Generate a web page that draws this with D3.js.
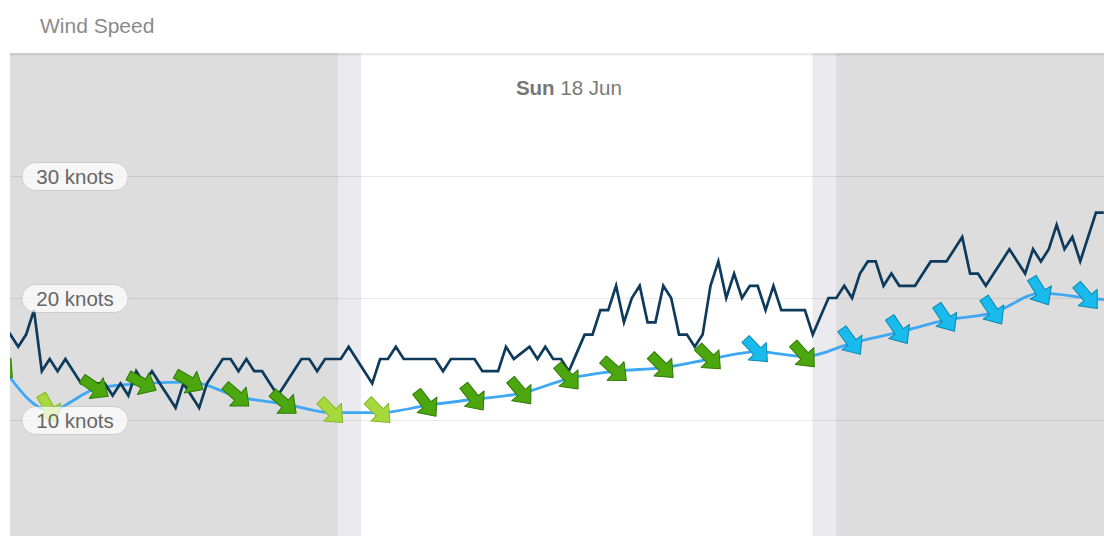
<!DOCTYPE html>
<html><head><meta charset="utf-8">
<script src="https://cdn.jsdelivr.net/npm/d3@7"></script>
<style>
body{margin:0;background:#fff;}
svg{display:block;font-family:"Liberation Sans",Arial,sans-serif;}
</style>
</head><body>
<svg id="c" width="1104" height="536"></svg>
<script>
// ---------- data ----------
const chartTitle = "Wind Speed";
const dayLabelBold = "Sun";
const dayLabelRest = " 18 Jun";
const dayLabelHour = 12;
// hours (from midnight) of dawn, sunrise, sunset, dusk
const dawnHour = 7.12, sunriseHour = 7.6, sunsetHour = 17.16, duskHour = 17.66;
const yTicks = [10, 20, 30];
const tickUnit = "knots";

// hourly mean wind (knots) and direction (deg, from)
const meanHours = [0,1,2,3,4,5,6,7,8,9,10,11,12,13,14,15,16,17,18,19,20,21,22,23,24];
const meanSpeed = [14.3,10.8,12.6,13.0,13.1,11.9,11.3,10.6,10.6,11.2,11.7,12.2,13.4,14.0,14.3,15.0,15.6,15.2,16.3,17.2,18.2,18.8,20.4,20.0,19.6];
const windDir   = [315,330,304,298,300,311,311,315,315,322,322,320,319,312,315,315,316,318,324,326,326,326,328,319,320];

// gusts every 10 minutes (knots), starting at 00:00
const gustStartHour = 0;
const gustStepHour = 1 / 6;
const gustSpeed = [
 18,17,16,17,19,14,15,14,15,14,
 13,13,13,13,12,13,12,14,13,14,
 13,12,11,13,12,11,13,14,15,15,
 14,15,14,14,13,12,13,14,15,15,
 14,15,15,15,16,15,14,13,15,15,
 16,15,15,15,15,15,14,15,15,15,
 15,14,14,14,16,15,15.5,16,15,16,
 15,15,14,15.5,17,17,19,19,21,18,
 20,21,18,18,21,20,17,17,16,17,
 21,23,20,22,20,21,21,19,21,19,
 19,19,19,17,18.5,20,20,21,20,22,
 23,23,21,22,21,21,21,22,23,23,
 23,24,25,22,22,21,22,23,24,23,
 22,24,23,24,26,24,25,23,25,27,
 27
];

// ---------- layout ----------
const plot = {left: 10, right: 1104, top: 53, bottom: 536};
const svg = d3.select("#c");

const x = d3.scaleLinear().domain([0.159, 23.337]).range([plot.left, plot.right]);
const y = d3.scaleLinear().domain([0, 40]).range([542, 54]);

svg.append("defs").append("clipPath").attr("id", "clip")
  .append("rect").attr("x", plot.left).attr("y", plot.top)
  .attr("width", plot.right - plot.left).attr("height", plot.bottom - plot.top);

// title
svg.append("text").attr("x", 40).attr("y", 33)
  .attr("font-size", 21).attr("fill", "#8a8a8a").text(chartTitle);

const g = svg.append("g").attr("clip-path", "url(#clip)");

// background bands (night / twilight / day)
const xMin = x.domain()[0], xMax = x.domain()[1];
const bands = [
  [xMin, dawnHour, "#dddddd"],
  [dawnHour, sunriseHour, "#eaeaef"],
  [sunriseHour, sunsetHour, "#ffffff"],
  [sunsetHour, duskHour, "#eaeaef"],
  [duskHour, xMax, "#dddddd"]
];
g.selectAll("rect.band").data(bands).join("rect").attr("class", "band")
  .attr("x", d => x(d[0])).attr("width", d => x(d[1]) - x(d[0]))
  .attr("y", plot.top).attr("height", plot.bottom - plot.top)
  .attr("fill", d => d[2]);

// top border
g.append("rect").attr("x", plot.left).attr("width", plot.right - plot.left)
  .attr("y", plot.top).attr("height", 2.5).attr("fill", "rgba(0,0,0,0.08)");

// gridlines
g.selectAll("line.grid").data(yTicks).join("line").attr("class", "grid")
  .attr("x1", plot.left).attr("x2", plot.right)
  .attr("y1", d => Math.round(y(d)) + 0.5).attr("y2", d => Math.round(y(d)) + 0.5)
  .attr("stroke", "rgba(0,0,0,0.09)").attr("stroke-width", 1);

// day label
const dl = g.append("text").attr("x", x(dayLabelHour)).attr("y", 95)
  .attr("text-anchor", "middle").attr("font-size", 20.5).attr("fill", "#7a7a7a");
dl.append("tspan").attr("font-weight", "bold").attr("fill", "#777").text(dayLabelBold);
dl.append("tspan").text(dayLabelRest);

// mean line
const meanData = meanHours.map((h, i) => ({h, v: meanSpeed[i], d: windDir[i]}));
g.append("path").datum(meanData)
  .attr("d", d3.line().x(d => x(d.h)).y(d => y(d.v)).curve(d3.curveMonotoneX))
  .attr("fill", "none").attr("stroke", "#3fa8f4").attr("stroke-width", 2.8);

// gust line
const gustData = gustSpeed.map((v, k) => ({h: gustStartHour + k * gustStepHour, v}));
g.append("path").datum(gustData)
  .attr("d", d3.line().x(d => x(d.h)).y(d => y(d.v)))
  .attr("fill", "none").attr("stroke", "#0e3a5c").attr("stroke-width", 2.7)
  .attr("stroke-linejoin", "miter");

// arrows
function arrowColors(v) {
  if (v < 11) return ["#a6d93c", "#86b52a"];
  if (v < 15.5) return ["#4ca60e", "#2f7a06"];
  return ["#19bbec", "#0a87b2"];
}
const arrowPath = "M-5,-19 L5,-19 L5,-2 L12.5,-2 L0,12.5 L-12.5,-2 L-5,-2 Z";
g.selectAll("path.arrow").data(meanData).join("path").attr("class", "arrow")
  .attr("d", arrowPath)
  .attr("transform", d => `translate(${x(d.h) + 1},${y(d.v) + 1}) rotate(${d.d})`)
  .attr("fill", d => arrowColors(d.v)[0])
  .attr("stroke", d => arrowColors(d.v)[1]).attr("stroke-width", 1)
  .attr("stroke-linejoin", "round");

// y labels (pills)
const lab = svg.append("g").selectAll("g.lab").data(yTicks).join("g").attr("class", "lab")
  .attr("transform", d => `translate(75,${Math.round(y(d)) + 0.5})`);
lab.append("rect").attr("x", -53).attr("y", -14).attr("width", 106).attr("height", 28)
  .attr("rx", 14).attr("fill", "rgba(255,255,255,0.72)")
  .attr("stroke", "rgba(0,0,0,0.12)").attr("stroke-width", 1);
lab.append("text").attr("text-anchor", "middle").attr("y", 7)
  .attr("font-size", 20.5).attr("fill", "#666").text(d => `${d} ${tickUnit}`);
</script>
</body></html>
